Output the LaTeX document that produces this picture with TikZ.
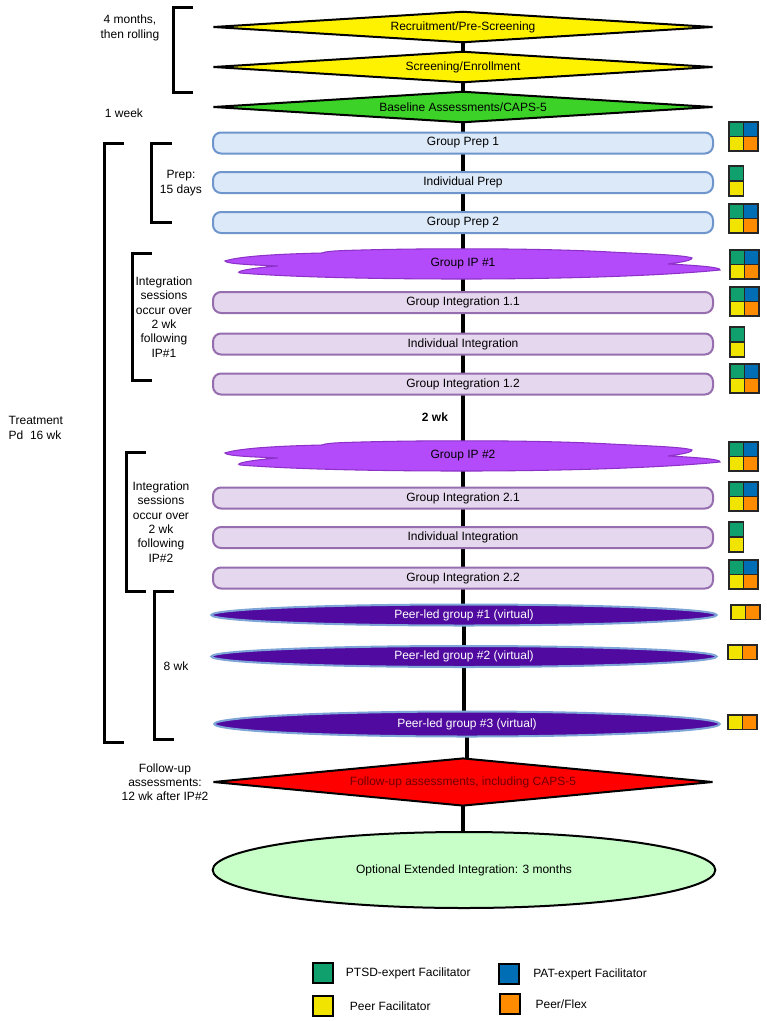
\documentclass[tikz,border=0pt]{standalone}
\usepackage{fontspec}
\setmainfont{Liberation Sans}
\usetikzlibrary{positioning,shapes.geometric,backgrounds}
\definecolor{ptsd}{RGB}{16,160,110}
\definecolor{patblue}{RGB}{0,110,180}
\definecolor{peeryel}{RGB}{240,228,0}
\definecolor{flexorg}{RGB}{255,140,0}
\definecolor{prepfill}{RGB}{220,233,249}
\definecolor{prepline}{RGB}{110,150,205}
\definecolor{intfill}{RGB}{229,215,237}
\definecolor{intline}{RGB}{150,110,175}
\definecolor{ipfill}{RGB}{180,75,250}
\definecolor{ipline}{RGB}{140,50,200}
\definecolor{peerfill}{RGB}{80,10,160}
\definecolor{peerline}{RGB}{125,165,215}
\definecolor{basegreen}{RGB}{60,210,40}
\definecolor{furtext}{RGB}{110,0,0}
\definecolor{optfill}{RGB}{200,255,200}

% facilitator boxes, top-left corner given
\newcommand{\facgrid}[2]{%
  \filldraw[fill=ptsd, cellline] (#1,#2) rectangle ++(14.5,14.5);
  \filldraw[fill=patblue, cellline] (#1+14.5,#2) rectangle ++(14.5,14.5);
  \filldraw[fill=peeryel, cellline] (#1,#2+14.5) rectangle ++(14.5,14.5);
  \filldraw[fill=flexorg, cellline] (#1+14.5,#2+14.5) rectangle ++(14.5,14.5);}
\newcommand{\facpair}[2]{%
  \filldraw[fill=ptsd, cellline] (#1,#2) rectangle ++(14.5,15);
  \filldraw[fill=peeryel, cellline] (#1,#2+15) rectangle ++(14.5,15);}
\newcommand{\peerpair}[2]{%
  \filldraw[fill=peeryel, cellline] (#1,#2) rectangle ++(14.5,14.5);
  \filldraw[fill=flexorg, cellline] (#1+14.5,#2) rectangle ++(14.5,14.5);}
\newcommand{\ipcloud}[1]{%
  \filldraw[fill=ipfill, draw=ipline, line width=0.8pt, shift={(0,#1)}]
    (225,-3) .. controls (240,-8) and (280,-10) .. (322,-11)
    .. controls (324,-12) and (330,-13) .. (345,-13.5)
    .. controls (420,-16) and (540,-16) .. (610,-12)
    .. controls (650,-10) and (684,-9) .. (692,-6)
    .. controls (692,-3) and (675,-1) .. (668,0)
    .. controls (690,1) and (722,3) .. (720,6)
    .. controls (660,12) and (560,15) .. (463,15)
    .. controls (370,15) and (290,13) .. (240,9)
    .. controls (232,7) and (262,3) .. (278,2)
    .. controls (255,1) and (226,0) .. (225,-3) -- cycle;}

\begin{document}
\begin{tikzpicture}[x=0.75pt, y=-0.75pt,
      every node/.style={font=\fontsize{9}{10.7}\selectfont},
      cellline/.style={draw=black!85, line width=0.9pt},
      gate/.style={diamond, aspect=16, draw=black, line width=1.5pt, inner sep=0pt,
                   minimum width=375pt, minimum height=23.5pt},
      prep/.style={rectangle, rounded corners=6pt, draw=prepline, fill=prepfill,
                   line width=1.5pt, minimum width=375pt, minimum height=15.75pt, inner sep=0pt},
      integ/.style={prep, draw=intline, fill=intfill},
      peer/.style={ellipse, draw=peerline, fill=peerfill, line width=1.5pt, text=white,
                   inner sep=0pt, minimum width=379pt, minimum height=15.75pt},
      iplabel/.style={inner sep=0pt, minimum height=21pt},
      note/.style={align=center},
      bkt/.style={line width=2.25pt},
      spine/.style={line width=3pt},
      swatch/.style={draw=black, line width=1pt, minimum size=15pt, inner sep=0pt},
      key/.style={inner sep=0pt, anchor=west}]

    \useasboundingbox (0,0) rectangle (767,1021);

    % screening stage
    \node[gate, fill=yellow]    (rec)  at (463,27)  {Recruitment/Pre-Screening};
    \node[gate, fill=yellow]    (scr)  at (463,67)  {Screening/Enrollment};
    \node[gate, fill=basegreen] (base) at (463,107) {Baseline Assessments/CAPS-5};

    % preparation
    \node[prep] (gp1) at (463,143)   {Group Prep 1};
    \node[prep] (ipr) at (463,182.5) {Individual Prep};
    \node[prep] (gp2) at (463,222.5) {Group Prep 2};

    % first dosing session and integration
    \ipcloud{264}
    \node[iplabel] (ip1)  at (463,264) {Group IP \#1};
    \node[integ]   (gi11) at (463,302.5) {Group Integration 1.1};
    \node[integ]   (ii1)  at (463,344) {Individual Integration};
    \node[integ]   (gi12) at (463,384) {Group Integration 1.2};

    \node[font=\fontsize{9}{10.7}\selectfont\bfseries] (gap) at (435,417) {2 wk};

    % second dosing session and integration
    \ipcloud{456}
    \node[iplabel] (ip2)  at (463,456) {Group IP \#2};
    \node[integ]   (gi21) at (463,498) {Group Integration 2.1};
    \node[integ]   (ii2)  at (463,537.5) {Individual Integration};
    \node[integ]   (gi22) at (463,578) {Group Integration 2.2};

    % peer-led groups
    \node[peer] (pl1) at (464,615)   {Peer-led group \#1 (virtual)};
    \node[peer] (pl2) at (464,656.5) {Peer-led group \#2 (virtual)};
    \node[peer, minimum height=18.75pt] (pl3) at (467,724) {Peer-led group \#3 (virtual)};

    % follow-up
    \node[gate, fill=red, text=furtext, minimum height=36pt] (fu) at (463,782)
      {Follow-up assessments, including CAPS-5};
    \node[ellipse, draw=black, line width=1.5pt, fill=optfill, inner sep=0pt,
          minimum width=377pt, minimum height=57pt] (opt) at (464,870)
      {Optional Extended Integration: 3 months};

    % timeline runs behind the boxes
    \begin{pgfonlayer}{background}
      \foreach \a/\b in {rec/scr,scr/base,base/gp1,gp1/ipr,ipr/gp2,gp2/ip1,ip1/gi11,
                         gi11/ii1,ii1/gi12,gi12/ip2,ip2/gi21,gi21/ii2,ii2/gi22,gi22/pl1,
                         pl1/pl2,pl2/pl3,pl3/fu,fu/opt}
        \draw[spine] (\a.center) -- (\a.center |- \b.center);
    \end{pgfonlayer}

    % brackets
    \draw[bkt] (193,7) -- (173,7) -- (173,92) -- (193,92);
    \draw[bkt] (124,143) -- (104,143) -- (104,742) -- (124,742);
    \draw[bkt] (172,143) -- (151,143) -- (151,222) -- (172,222);
    \draw[bkt] (152,253) -- (132,253) -- (132,380) -- (152,380);
    \draw[bkt] (146,452) -- (126,452) -- (126,591) -- (146,591);
    \draw[bkt] (174,591) -- (154,591) -- (154,739) -- (174,739);

    % timing notes
    \node[note] (t4m)   at (130,28)  {4 months,\\then rolling};
    \node[note] (t1w)   at (124,113) {1 week};
    \node[note] (tprep) at (181,183) {Prep:\\15 days};
    \node[note] (tint1) at (164,317) {Integration\\sessions\\occur over\\2 wk\\following\\IP\#1};
    \node[align=left, anchor=west] (ttrt) at (4,428) {Treatment\\Pd\ \ 16 wk};
    \node[note] (tint2) at (161,522) {Integration\\sessions\\occur over\\2 wk\\following\\IP\#2};
    \node[note] (t8w)   at (176,666) {8 wk};
    \node[note] (tfu)   at (165,782) {Follow-up\\assessments:\\12 wk after IP\#2};

    % who facilitates
    \facgrid{729}{122}
    \facpair{729}{166}
    \facgrid{729}{204}
    \facgrid{730}{250}
    \facgrid{730}{287}
    \facpair{730}{327}
    \facgrid{730}{364}
    \facgrid{729}{442}
    \facgrid{729}{482}
    \facpair{729}{522}
    \facgrid{729}{560}
    \peerpair{731}{605}
    \peerpair{728}{645}
    \peerpair{728}{715}

    % legend
    \node[swatch, fill=ptsd]    (kptsd) at (323,973)  {};
    \node[key, right=9pt of kptsd] (lptsd) {PTSD-expert Facilitator};
    \node[swatch, fill=patblue] (kpat)  at (509,974)  {};
    \node[key, right=10pt of kpat] (lpat) {PAT-expert Facilitator};
    \node[swatch, fill=peeryel] (kpeer) at (323,1006) {};
    \node[key, right=12pt of kpeer] (lpeer) {Peer Facilitator};
    \node[swatch, fill=flexorg] (kflex) at (510,1004) {};
    \node[key, right=11pt of kflex] (lflex) {Peer/Flex};
\end{tikzpicture}
\end{document}
